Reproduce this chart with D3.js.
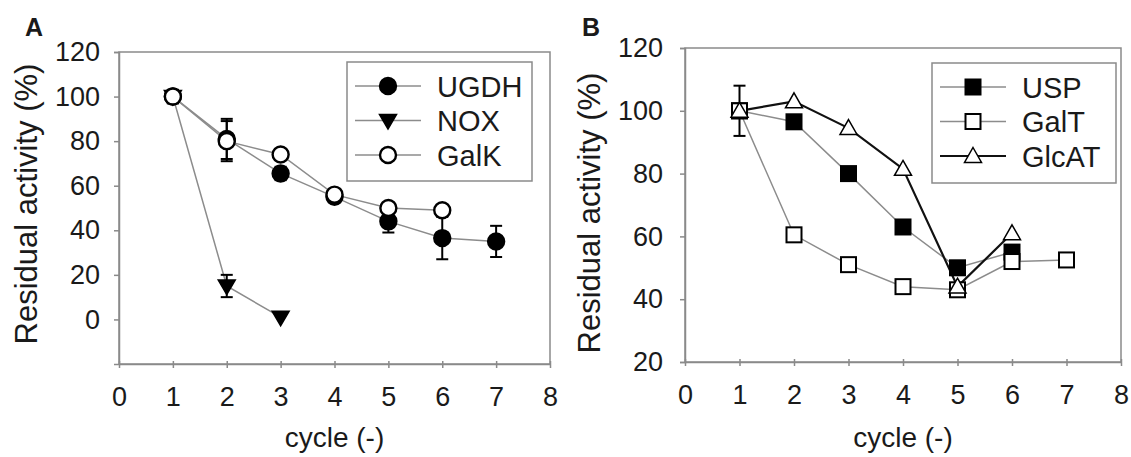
<!DOCTYPE html>
<html>
<head>
<meta charset="utf-8">
<script src="https://cdn.jsdelivr.net/npm/d3@7"></script>
<style>
  body { margin: 0; background: #fff; }
  text { font-family: 'Liberation Sans', Arial, sans-serif; fill: #1a1a1a; }
</style>
</head>
<body>
<script>
const width = 1131;
const height = 457;

const cycles = [1, 2, 3, 4, 5, 6, 7];

// Panel A
const ugdh = [100, 81, 65.5, 55, 44, 36.5, 35];
const ugdhErr = [3, 9, 3, 2, 5, 9.5, 7];
const nox = [100, 15, 1];
const noxErr = [2, 5, 0];
const galk = [100, 80, 74, 56, 50, 49];
const galkErr = [3, 9, 1, 1, 1, 1];

// Panel B
const usp = [100, 96.5, 80, 63, 50, 55];
const galt = [100, 60.5, 51, 44, 43, 52, 52.5];
const glcat = [100, 103, 94.5, 81.5, 44, 61];
const glcatErr = [8, 0, 0, 0, 0, 0];

const xTicks = [0, 1, 2, 3, 4, 5, 6, 7, 8];
const yTicksA = [0, 20, 40, 60, 80, 100, 120];
const yTicksB = [20, 40, 60, 80, 100, 120];

const svg = d3.select('body').append('svg')
  .attr('width', width)
  .attr('height', height);

const axisGray = '#8a8a8a';
const lineGray = '#8c8c8c';
const fontFam = "'Liberation Sans', Arial, sans-serif";

function panel(opts) {
  const x = d3.scaleLinear().domain([0, 8]).range([opts.left, opts.right]);
  const y = d3.scaleLinear().domain(opts.yDomain).range([opts.bottom, opts.top]);
  const g = svg.append('g');

  // plot frame
  g.append('rect')
    .attr('x', opts.left).attr('y', opts.top)
    .attr('width', opts.right - opts.left)
    .attr('height', opts.bottom - opts.top)
    .attr('fill', 'none').attr('stroke', axisGray).attr('stroke-width', 1.5);

  // y axis
  const yAxis = g.append('g')
    .attr('transform', `translate(${opts.left},0)`)
    .call(d3.axisLeft(y).tickValues(opts.yTicks).tickSize(5).tickPadding(opts.yPad));
  yAxis.select('.domain').attr('stroke', axisGray).attr('stroke-width', 1.5);
  yAxis.selectAll('.tick line').attr('stroke', axisGray).attr('stroke-width', 1.5);
  yAxis.selectAll('.tick text')
    .attr('fill', '#1a1a1a').style('font-size', '27px').style('font-family', fontFam);

  // x axis
  const xAxis = g.append('g')
    .attr('transform', `translate(0,${opts.bottom})`)
    .call(d3.axisBottom(x).tickValues(xTicks).tickSizeInner(4).tickSizeOuter(0).tickPadding(19));
  xAxis.select('.domain').attr('stroke', axisGray).attr('stroke-width', 1.5);
  xAxis.selectAll('.tick line').attr('stroke', axisGray).attr('stroke-width', 1.5).attr('y1', -3);
  xAxis.selectAll('.tick text')
    .attr('fill', '#1a1a1a').style('font-size', '27px').style('font-family', fontFam);

  // titles
  svg.append('text')
    .attr('x', (opts.left + opts.right) / 2)
    .attr('y', 447)
    .attr('text-anchor', 'middle')
    .style('font-size', '28px')
    .text('cycle (-)');

  svg.append('text')
    .attr('transform', `translate(${opts.titleX},${opts.titleY}) rotate(-90)`)
    .attr('text-anchor', 'middle')
    .style('font-size', '31px')
    .text('Residual activity (%)');

  svg.append('text')
    .attr('x', opts.letterX)
    .attr('y', 36)
    .style('font-size', '25px')
    .style('font-weight', 'bold')
    .text(opts.letter);

  return { x, y, g };
}

function marker(g, shape, cx, cy) {
  const s = 8.5;
  if (shape === 'circleFilled' || shape === 'circleOpen') {
    g.append('circle').attr('cx', cx).attr('cy', cy).attr('r', 8)
      .attr('fill', shape === 'circleFilled' ? '#000' : '#fff')
      .attr('stroke', '#000').attr('stroke-width', 2.4);
  } else if (shape === 'triDown') {
    g.append('path')
      .attr('d', `M${cx - s},${cy - s * 0.7} L${cx + s},${cy - s * 0.7} L${cx},${cy + s} Z`)
      .attr('fill', '#000').attr('stroke', '#000').attr('stroke-width', 1.5);
  } else if (shape === 'triUp') {
    g.append('path')
      .attr('d', `M${cx},${cy - s} L${cx + s},${cy + s * 0.75} L${cx - s},${cy + s * 0.75} Z`)
      .attr('fill', '#fff').attr('stroke', '#000').attr('stroke-width', 1.5);
  } else if (shape === 'sqFilled' || shape === 'sqOpen') {
    g.append('rect').attr('x', cx - 7.5).attr('y', cy - 7.5)
      .attr('width', 15).attr('height', 15)
      .attr('fill', shape === 'sqFilled' ? '#000' : '#fff')
      .attr('stroke', '#000').attr('stroke-width', 2);
  }
}

function series(p, values, errs, lineColor, lineWidth) {
  const pts = values.map((v, i) => ({ c: cycles[i], v, e: errs ? errs[i] : 0 }));
  const line = d3.line().x(d => p.x(d.c)).y(d => p.y(d.v));
  p.g.append('path').datum(pts).attr('d', line)
    .attr('fill', 'none').attr('stroke', lineColor).attr('stroke-width', lineWidth);
  return pts;
}

function errorBars(p, pts) {
  pts.filter(d => d.e > 0).forEach(d => {
    const cx = p.x(d.c);
    const y0 = p.y(d.v - d.e), y1 = p.y(d.v + d.e);
    p.g.append('line').attr('x1', cx).attr('x2', cx).attr('y1', y0).attr('y2', y1)
      .attr('stroke', '#000').attr('stroke-width', 2);
    [y0, y1].forEach(yy => p.g.append('line')
      .attr('x1', cx - 6).attr('x2', cx + 6).attr('y1', yy).attr('y2', yy)
      .attr('stroke', '#000').attr('stroke-width', 2));
  });
}

function markers(p, pts, shape) {
  pts.forEach(d => marker(p.g, shape, p.x(d.c), p.y(d.v)));
}

function legend(items, x0, y0, w, h) {
  const lg = svg.append('g');
  lg.append('rect').attr('x', x0).attr('y', y0).attr('width', w).attr('height', h)
    .attr('fill', '#fff').attr('stroke', axisGray).attr('stroke-width', 1.5);
  items.forEach((it, i) => {
    const yy = y0 + 24 + i * 34.5;
    lg.append('line').attr('x1', x0 + 8).attr('x2', x0 + 74).attr('y1', yy).attr('y2', yy)
      .attr('stroke', it.color).attr('stroke-width', it.width);
    marker(lg, it.shape, x0 + 41, yy);
    lg.append('text').attr('x', x0 + 90).attr('y', yy + 10.5)
      .style('font-size', '29px').text(it.label);
  });
}

// ----- Panel A -----
const pA = panel({
  left: 119, right: 550, top: 52, bottom: 364, yDomain: [-20, 120], yTicks: yTicksA,
  yPad: 14, letter: 'A', letterX: 25, titleX: 37, titleY: 204
});
const ptsUgdh = series(pA, ugdh, ugdhErr, lineGray, 1.5);
const ptsNox = series(pA, nox, noxErr, lineGray, 1.5);
const ptsGalk = series(pA, galk, galkErr, lineGray, 1.5);
errorBars(pA, ptsUgdh);
errorBars(pA, ptsNox);
errorBars(pA, ptsGalk);
markers(pA, ptsUgdh, 'circleFilled');
markers(pA, ptsNox, 'triDown');
markers(pA, ptsGalk, 'circleOpen');
legend([
  { label: 'UGDH', shape: 'circleFilled', color: lineGray, width: 1.5 },
  { label: 'NOX', shape: 'triDown', color: lineGray, width: 1.5 },
  { label: 'GalK', shape: 'circleOpen', color: lineGray, width: 1.5 }
], 347, 62, 185, 119);

// ----- Panel B -----
const pB = panel({
  left: 685, right: 1121, top: 48, bottom: 362, yDomain: [20, 120], yTicks: yTicksB,
  yPad: 17, letter: 'B', letterX: 582, titleX: 600, titleY: 213
});
const ptsGalt = series(pB, galt, null, lineGray, 1.5);
const ptsUsp = series(pB, usp, null, lineGray, 1.5);
const ptsGlcat = series(pB, glcat, glcatErr, '#111', 2.2);
errorBars(pB, ptsGlcat);
markers(pB, ptsUsp, 'sqFilled');
markers(pB, ptsGalt, 'sqOpen');
markers(pB, ptsGlcat, 'triUp');
legend([
  { label: 'USP', shape: 'sqFilled', color: lineGray, width: 1.5 },
  { label: 'GalT', shape: 'sqOpen', color: lineGray, width: 1.5 },
  { label: 'GlcAT', shape: 'triUp', color: '#111', width: 2.2 }
], 932, 63, 184, 120);
</script>
</body>
</html>
